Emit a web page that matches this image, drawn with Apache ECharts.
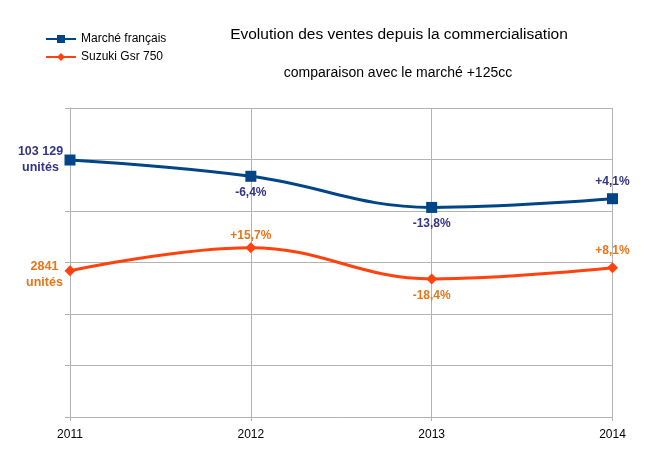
<!DOCTYPE html>
<html>
<head>
    <meta charset="utf-8">
    <title>Evolution des ventes</title>
    <style type="text/css">
        html, body { margin: 0; padding: 0; background: #fff; }
        #main { width: 657px; height: 469px; }
    </style>
</head>
<body>
    <div id="main"></div>
    <script src="https://cdn.jsdelivr.net/npm/echarts@6/dist/echarts.min.js"></script>
    <script>
        // données
        var annees = ['2011', '2012', '2013', '2014'];
        var marche = [103129, 96600, 84100, 87600];
        var suzuki = [2841, 3287, 2682, 2899];
        var labelsMarche = ['103 129\nunités', '-6,4%', '-13,8%', '+4,1%'];
        var labelsSuzuki = ['2841\nunités', '+15,7%', '-18,4%', '+8,1%'];
        var posMarche = ['left', 'bottom', 'bottom', 'top'];
        var posSuzuki = ['left', 'top', 'bottom', 'top'];
        var distMarche = [4, 3, 3, 4];
        var distSuzuki = [4, -1, 3, 4];
        var decalMarche = [-20, 0];
        var decalSuzuki = [-16, 4];

        var bleu = '#004586', orange = '#ff420e';
        var bleuTxt = '#333388', orangeTxt = '#e5761a';

        function points(vals, labels, pos, dist, decal, color) {
            return vals.map(function (v, i) {
                return {
                    value: v,
                    label: {
                        show: true,
                        formatter: labels[i],
                        position: pos[i],
                        distance: dist[i],
                        offset: i === 0 ? decal : [0, 0],
                        color: color,
                        fontWeight: 'bold',
                        fontSize: i === 0 ? 12.5 : 12,
                        lineHeight: 16,
                        align: 'center',
                        fontFamily: 'Liberation Sans'
                    }
                };
            });
        }

        var myChart = echarts.init(document.getElementById('main'));
        var option = {
            animation: false,
            textStyle: { fontFamily: 'Liberation Sans' },
            title: [{
                text: 'Evolution des ventes depuis la commercialisation',
                left: 394, top: 22, textAlign: 'center',
                textStyle: { fontSize: 15.5, fontWeight: 'normal', color: '#000' }
            }, {
                text: 'comparaison avec le marché +125cc',
                left: 393, top: 61, textAlign: 'center',
                textStyle: { fontSize: 14, fontWeight: 'normal', color: '#000' }
            }],
            legend: {
                orient: 'vertical',
                left: 40, top: 28,
                itemWidth: 30, itemHeight: 10, itemGap: 6,
                textStyle: { fontSize: 12, color: '#000' },
                data: ['Marché français', 'Suzuki Gsr 750']
            },
            grid: { left: 70, right: 44.5, top: 108, bottom: 52 },
            xAxis: {
                type: 'category',
                boundaryGap: false,
                data: annees,
                axisLine: { lineStyle: { color: '#b3b3b3' } },
                axisTick: { show: true, length: 4, lineStyle: { color: '#b3b3b3' } },
                axisLabel: { color: '#000', fontSize: 12, margin: 12 },
                splitLine: { show: true, lineStyle: { color: '#b3b3b3' } }
            },
            yAxis: [{
                type: 'value', min: 0, max: 6000, interval: 1000,
                axisLine: { show: true, lineStyle: { color: '#b3b3b3' } },
                axisTick: { show: true, length: 5, lineStyle: { color: '#b3b3b3' } },
                axisLabel: { show: false },
                splitLine: { lineStyle: { color: '#b3b3b3' } }
            }, {
                type: 'value', min: 0, max: 124000, position: 'left',
                axisLine: { show: false }, axisTick: { show: false },
                axisLabel: { show: false }, splitLine: { show: false }
            }],
            series: [{
                name: 'Marché français',
                type: 'line',
                yAxisIndex: 1,
                smooth: 0.4,
                symbol: 'rect', symbolSize: 11,
                itemStyle: { color: bleu },
                lineStyle: { color: bleu, width: 3 },
                data: points(marche, labelsMarche, posMarche, distMarche, decalMarche, bleuTxt)
            }, {
                name: 'Suzuki Gsr 750',
                type: 'line',
                yAxisIndex: 0,
                smooth: 0.4,
                symbol: 'diamond', symbolSize: 11,
                itemStyle: { color: orange },
                lineStyle: { color: orange, width: 3 },
                data: points(suzuki, labelsSuzuki, posSuzuki, distSuzuki, decalSuzuki, orangeTxt)
            }]
        };
        myChart.setOption(option);
    </script>
</body>
</html>
